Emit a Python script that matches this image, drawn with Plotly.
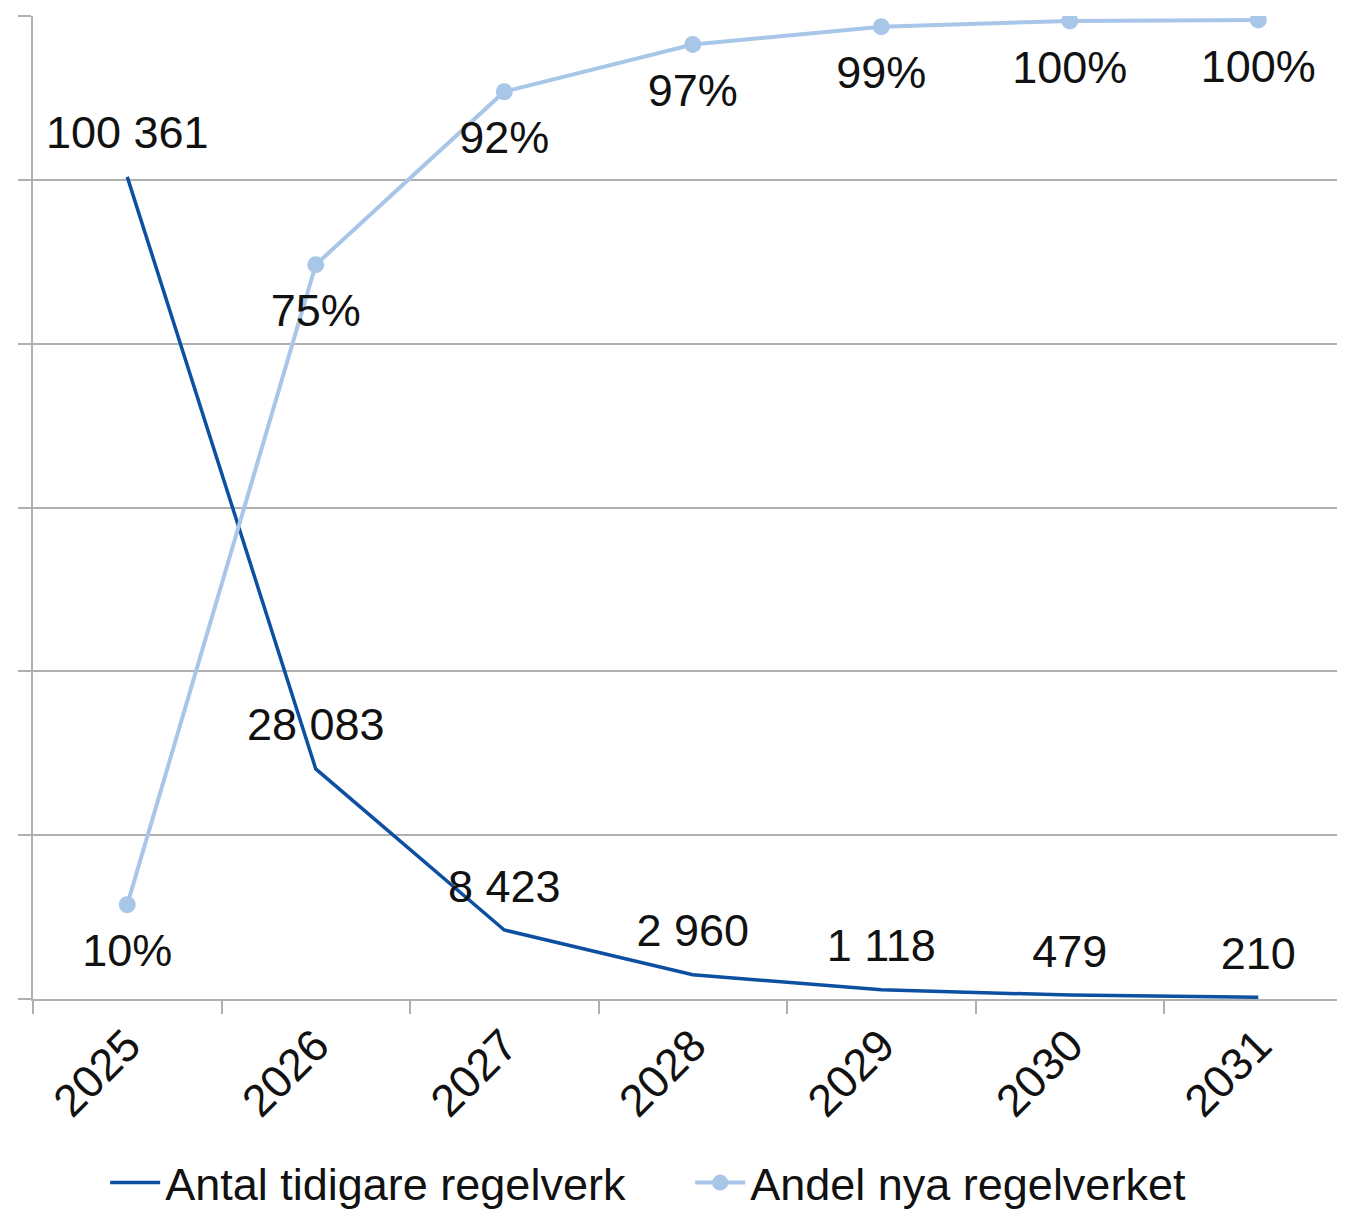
import plotly.graph_objects as go

years = ["2025", "2026", "2027", "2028", "2029", "2030", "2031"]
antal = [100361, 28083, 8423, 2960, 1118, 479, 210]
antal_labels = ["100 361", "28 083", "8 423", "2 960", "1 118", "479", "210"]
andel = [0.096, 0.747, 0.923, 0.971, 0.989, 0.995, 0.996]
andel_labels = ["10%", "75%", "92%", "97%", "99%", "100%", "100%"]

DARK = "#0d4fa0"
LIGHT = "#a8c6e8"
GRID = "#b0b0b0"
FONT = "Liberation Sans, Arial, sans-serif"
FS = 45

fig = go.Figure()
fig.add_trace(go.Scatter(
    x=years, y=antal, mode="lines", name="Antal tidigare regelverk",
    line=dict(color=DARK, width=3.5), yaxis="y", hoverinfo="skip"))
fig.add_trace(go.Scatter(
    x=years, y=andel, mode="lines+markers", name="Andel nya regelverket",
    line=dict(color=LIGHT, width=4), marker=dict(color=LIGHT, size=17),
    yaxis="y2", hoverinfo="skip"))
# data labels
fig.add_trace(go.Scatter(
    x=years, y=antal, mode="markers+text", text=antal_labels,
    textposition="top center", textfont=dict(size=FS, color="#111111", family=FONT),
    marker=dict(size=26, color="rgba(0,0,0,0)"), showlegend=False,
    yaxis="y", hoverinfo="skip"))
fig.add_trace(go.Scatter(
    x=years, y=andel, mode="markers+text", text=andel_labels,
    textposition="bottom center", textfont=dict(size=FS, color="#111111", family=FONT),
    marker=dict(size=43, color="rgba(0,0,0,0)"), showlegend=False,
    yaxis="y2", hoverinfo="skip"))

# the page body has an 8px default margin, so the figure is sized to fill the rest
fig.update_layout(
    width=1337, height=1202,
    margin=dict(l=25, r=0, t=8, b=211, autoexpand=False),
    paper_bgcolor="white", plot_bgcolor="white",
    font=dict(family=FONT, size=FS, color="#111111"),
    xaxis=dict(
        type="category", range=[-0.5, 6.46], tickson="boundaries",
        ticks="outside", ticklen=13, tickwidth=2, tickcolor=GRID,
        showline=True, linecolor=GRID, linewidth=2,
        showgrid=False, tickangle=-45, automargin=False,
        tickfont=dict(size=FS, family=FONT, color="#111111"),
    ),
    yaxis=dict(
        range=[0, 120000], dtick=20000, showticklabels=False,
        ticks="outside", ticklen=13, tickwidth=2, tickcolor=GRID,
        showline=True, linecolor=GRID, linewidth=2, automargin=False,
        showgrid=True, gridcolor=GRID, gridwidth=2, zeroline=False,
    ),
    yaxis2=dict(
        range=[0, 1], overlaying="y", side="right", visible=False,
        showgrid=False, zeroline=False,
    ),
    legend=dict(
        orientation="h", x=0.055, xanchor="left", y=-0.187, yanchor="middle",
        font=dict(size=FS, family=FONT, color="#111111"),
        bgcolor="rgba(0,0,0,0)", entrywidth=520, entrywidthmode="pixels",
        itemwidth=50,
    ),
    showlegend=True,
)

fig.write_html("out.html")
